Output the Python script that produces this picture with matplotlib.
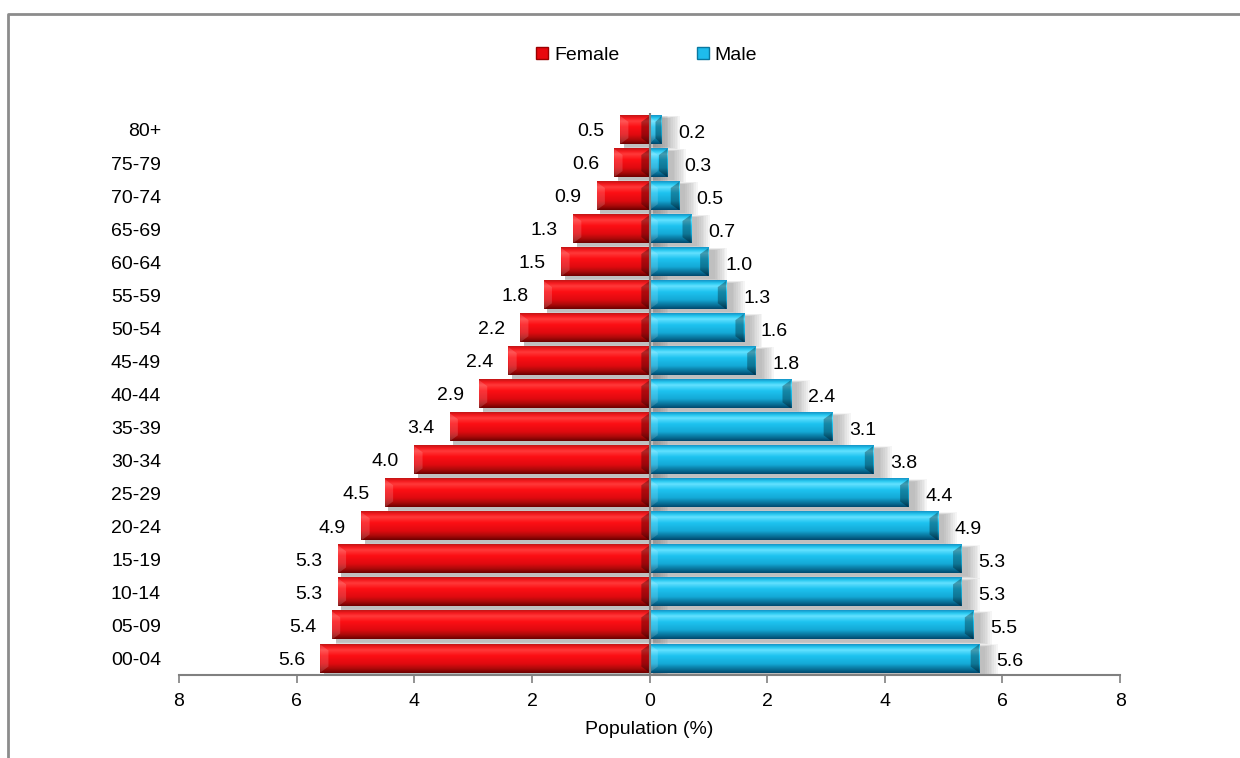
import numpy as np
import matplotlib.pyplot as plt
from matplotlib.patches import Rectangle, Polygon
from matplotlib.lines import Line2D
from matplotlib.colors import LinearSegmentedColormap

plt.rcParams['font.family'] = ['Liberation Sans', 'DejaVu Sans']

ages = ['00-04', '05-09', '10-14', '15-19', '20-24', '25-29', '30-34', '35-39',
        '40-44', '45-49', '50-54', '55-59', '60-64', '65-69', '70-74', '75-79', '80+']
female = [5.6, 5.4, 5.3, 5.3, 4.9, 4.5, 4.0, 3.4, 2.9, 2.4, 2.2, 1.8, 1.5, 1.3, 0.9, 0.6, 0.5]
male = [5.6, 5.5, 5.3, 5.3, 4.9, 4.4, 3.8, 3.1, 2.4, 1.8, 1.6, 1.3, 1.0, 0.7, 0.5, 0.3, 0.2]
xticks = [-8, -6, -4, -2, 0, 2, 4, 6, 8]

# vertical shading for the "bevel" look (bottom -> top)
red_cmap = LinearSegmentedColormap.from_list('red3d', [
    (0.0, '#6e0000'), (0.15, '#ad0a0a'), (0.32, '#e00a10'), (0.6, '#fd0f14'),
    (0.8, '#ff3a3a'), (0.9, '#f51a1f'), (1.0, '#c41515')])
blue_cmap = LinearSegmentedColormap.from_list('blue3d', [
    (0.0, '#004a70'), (0.15, '#0a78a0'), (0.32, '#14aad7'), (0.6, '#1ec3f0'),
    (0.8, '#64e1ff'), (0.9, '#28c8f0'), (1.0, '#1496c8')])

fig = plt.figure(figsize=(12.4, 7.58), dpi=100)
ax = fig.add_axes([0.1444, 0.1095, 0.7589, 0.7408])

h = 0.85
grad = np.linspace(0, 1, 64).reshape(-1, 1)


def bevel_bar(x0, x1, y, cmap):
    y0, y1 = y - h / 2, y + h / 2
    # soft drop shadow to the right / below
    for k in range(8):
        d = 0.03 * (8 - k)
        ax.add_patch(Rectangle((x0 + 0.06, y0 - 0.08 - d / 3), x1 - x0 + 0.02 + d, h + d / 1.5,
                               facecolor='#606060', edgecolor='none', alpha=0.06, zorder=1))
    ax.imshow(grad, cmap=cmap, origin='lower', aspect='auto',
              extent=(x0, x1, y0, y1), zorder=2, interpolation='bilinear')
    bw = min(0.14, (x1 - x0) / 2)
    bh = 0.18
    # dark bevel on the right end, light on the left end
    ax.add_patch(Polygon([(x1, y0), (x1, y1), (x1 - bw, y1 - bh), (x1 - bw, y0 + bh)],
                         closed=True, facecolor='black', alpha=0.3,
                         edgecolor='none', zorder=3))
    ax.add_patch(Polygon([(x0, y0), (x0, y1), (x0 + bw, y1 - bh), (x0 + bw, y0 + bh)],
                         closed=True, facecolor='white', alpha=0.15,
                         edgecolor='none', zorder=3))


for i in range(len(ages)):
    bevel_bar(-female[i], 0, i, red_cmap)
    bevel_bar(0, male[i], i, blue_cmap)
    ax.text(-female[i] - 0.26, i - 0.05, f'{female[i]:.1f}', ha='right', va='center',
            fontsize=14, color='black', zorder=5)
    ax.text(male[i] + 0.29, i - 0.1, f'{male[i]:.1f}', ha='left', va='center',
            fontsize=14, color='black', zorder=5)

ax.axvline(0, color='#808080', lw=1.5, zorder=4)

ax.set_xlim(-8, 8)
ax.set_ylim(-0.5, len(ages) - 0.5)
ax.set_xticks(xticks)
ax.set_xticklabels([str(abs(t)) for t in xticks], fontsize=14)
ax.set_yticks(range(len(ages)))
ax.set_yticklabels(ages, fontsize=14)
ax.tick_params(axis='y', length=0, pad=13)
ax.tick_params(axis='x', direction='out', length=6, width=1.2, color='#808080', pad=7)
for s in ['top', 'right', 'left']:
    ax.spines[s].set_visible(False)
ax.spines['bottom'].set_color('#808080')
ax.spines['bottom'].set_linewidth(1.5)
ax.set_xlabel('Population (%)', fontsize=14, labelpad=8)

handles = [Line2D([], [], marker='s', linestyle='none', markersize=9,
                  markerfacecolor='#e8080e', markeredgecolor='#9a0000'),
           Line2D([], [], marker='s', linestyle='none', markersize=9,
                  markerfacecolor='#1ebcec', markeredgecolor='#0a78a0')]
fig.legend(handles, ['Female', 'Male'], loc='center', bbox_to_anchor=(0.520, 0.927),
           ncol=2, frameon=False, fontsize=14, handletextpad=0.1, columnspacing=3.8,
           handlelength=1.0)

# outer chart frame
fig.add_artist(Line2D([0.0065, 0.0065, 1.0], [0.0, 0.9815, 0.9815], color='#8c8c8c',
                      lw=2, transform=fig.transFigure))

fig.savefig('out.png', dpi=100)
